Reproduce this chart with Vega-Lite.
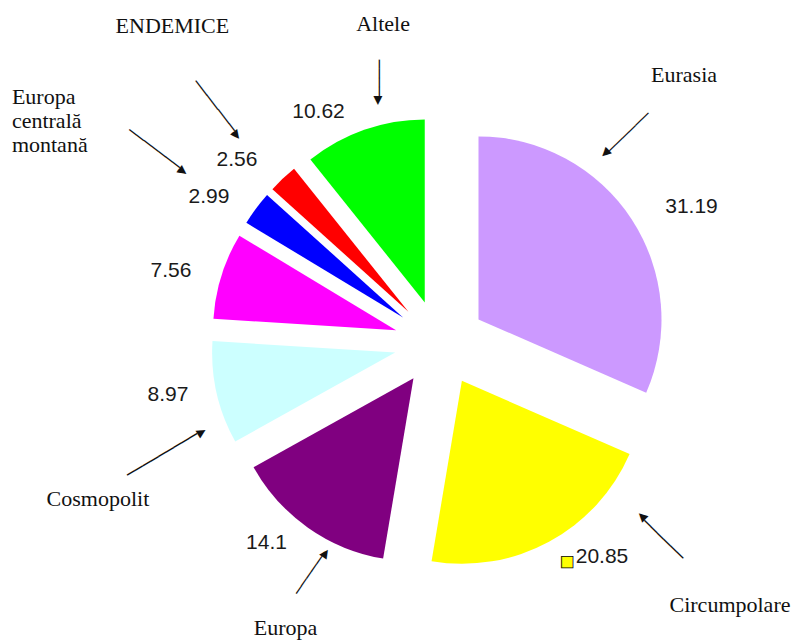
{
  "$schema": "https://vega.github.io/schema/vega-lite/v6.json",
  "autosize": {"type": "none"},
  "width": 706,
  "height": 602,
  "padding": {"left": 87, "top": 42, "right": 0, "bottom": 0},
  "background": "white",
  "config": {"view": {"stroke": null}},
  "data": {"values": [
    {"grupa": "Eurasia", "procent": 31.19},
    {"grupa": "Circumpolare", "procent": 20.85},
    {"grupa": "Europa", "procent": 14.1},
    {"grupa": "Cosmopolit", "procent": 8.97},
    {"grupa": "", "procent": 7.56},
    {"grupa": "Europa centrală montană", "procent": 2.99},
    {"grupa": "ENDEMICE", "procent": 2.56},
    {"grupa": "Altele", "procent": 10.62}
  ]},
  "transform": [{"window": [{"op": "row_number", "as": "ordine"}]}],
  "encoding": {
    "theta": {"field": "procent", "type": "quantitative", "stack": true},
    "order": {"field": "ordine", "type": "quantitative"},
    "detail": {"field": "grupa", "type": "nominal"}
  },
  "layer": [
    {
      "mark": {
        "type": "arc",
        "outerRadius": 183,
        "xOffset": {"expr": "46*sin(scale('theta', (datum.procent_start + datum.procent_end)/2))"},
        "yOffset": {"expr": "-43*cos(scale('theta', (datum.procent_start + datum.procent_end)/2))"}
      },
      "encoding": {
        "color": {
          "field": "grupa",
          "type": "nominal",
          "scale": {
            "domain": ["Eurasia", "Circumpolare", "Europa", "Cosmopolit", "", "Europa centrală montană", "ENDEMICE", "Altele"],
            "range": ["#CC99FF", "#FFFF00", "#800080", "#CCFFFF", "#FF00FF", "#0000FF", "#FF0000", "#00FF00"]
          },
          "legend": null
        }
      }
    },
    {
      "mark": {
        "type": "text",
        "radius": 270,
        "font": "Liberation Sans",
        "fontSize": 21,
        "align": "center",
        "baseline": "middle",
        "dx": {"expr": "({'Eurasia': 25.6, 'Circumpolare': 33.5, 'Europa': -17.8, 'Cosmopolit': -8.7, '': -11.3, 'Europa centrală montană': -14.2, 'ENDEMICE': -17.7, 'Altele': -32.1})[datum.grupa]"},
        "dy": {"expr": "({'Eurasia': 11.4, 'Circumpolare': -23.5, 'Europa': -20.1, 'Cosmopolit': -7.6, '': 8, 'Europa centrală montană': 14.9, 'ENDEMICE': 13.4, 'Altele': 23.3})[datum.grupa]"}
      },
      "encoding": {
        "text": {"field": "procent", "type": "quantitative", "format": ".2~f"},
        "color": {"value": "#1a1a1a"}
      }
    },
    {
      "mark": {
        "type": "text",
        "radius": 270,
        "font": "DejaVu Sans",
        "fontSize": 15,
        "align": "center",
        "baseline": "middle",
        "stroke": "#000000",
        "strokeWidth": 0.8,
        "dx": -1.5,
        "dy": -19.5
      },
      "encoding": {
        "text": {"condition": {"test": "datum.grupa === 'Circumpolare'", "value": "■"}, "value": ""},
        "color": {"value": "#FFFF00"}
      }
    },
    {
      "mark": {
        "type": "text",
        "radius": 330,
        "font": "Liberation Serif",
        "fontSize": 22,
        "lineBreak": " ",
        "lineHeight": 24,
        "align": {"expr": "datum.grupa === 'Europa centrală montană' ? 'left' : 'center'"},
        "baseline": "middle",
        "dx": {"expr": "({'Eurasia': -32.1, 'Circumpolare': 132.9, 'Europa': 35.8, 'Cosmopolit': -20.2, '': 0, 'Europa centrală montană': -163, 'ENDEMICE': -41.1, 'Altele': 52.3})[datum.grupa]"},
        "dy": {"expr": "({'Eurasia': -87.3, 'Circumpolare': -28.2, 'Europa': 15.5, 'Cosmopolit': 83.1, '': 0, 'Europa centrală montană': -49.3, 'ENDEMICE': -77, 'Altele': -7.6})[datum.grupa]"}
      },
      "encoding": {
        "text": {"field": "grupa", "type": "nominal"},
        "color": {"value": "#111111"}
      }
    },
    {
      "mark": {
        "type": "text",
        "radius": 250,
        "font": "DejaVu Sans Mono",
        "fontSize": 15,
        "fontWeight": "bold",
        "align": "right",
        "baseline": "middle",
        "angle": {"expr": "({'Eurasia': 135.6, 'Circumpolare': 224.4, 'Europa': 304.5, 'Cosmopolit': 329.3, '': 0, 'Europa centrală montană': 36.9, 'ENDEMICE': 52.2, 'Altele': 90})[datum.grupa]"},
        "dx": {"expr": "({'Eurasia': -1.3, 'Circumpolare': -22.2, 'Europa': 16.2, 'Cosmopolit': -8.2, '': 0, 'Europa centrală montană': -54.3, 'ENDEMICE': -35.7, 'Altele': -2.1})[datum.grupa]"},
        "dy": {"expr": "({'Eurasia': 67.4, 'Circumpolare': 90.2, 'Europa': 26.7, 'Cosmopolit': 31.0, '': 0, 'Europa centrală montană': 14.5, 'ENDEMICE': 8.3, 'Altele': -21.8})[datum.grupa]"}
      },
      "encoding": {
        "text": {
          "condition": [
            {"test": "datum.grupa === ''", "value": ""},
            {"test": "datum.grupa === 'Altele'", "value": "────▶"},
            {"test": "datum.grupa === 'Europa'", "value": "─────▶"},
            {"test": "datum.grupa === 'Eurasia' || datum.grupa === 'Circumpolare'", "value": "──────▶"},
            {"test": "datum.grupa === 'Cosmopolit'", "value": "─────────▶"}
          ],
          "value": "───────▶"
        },
        "color": {"value": "#111111"}
      }
    }
  ]
}
